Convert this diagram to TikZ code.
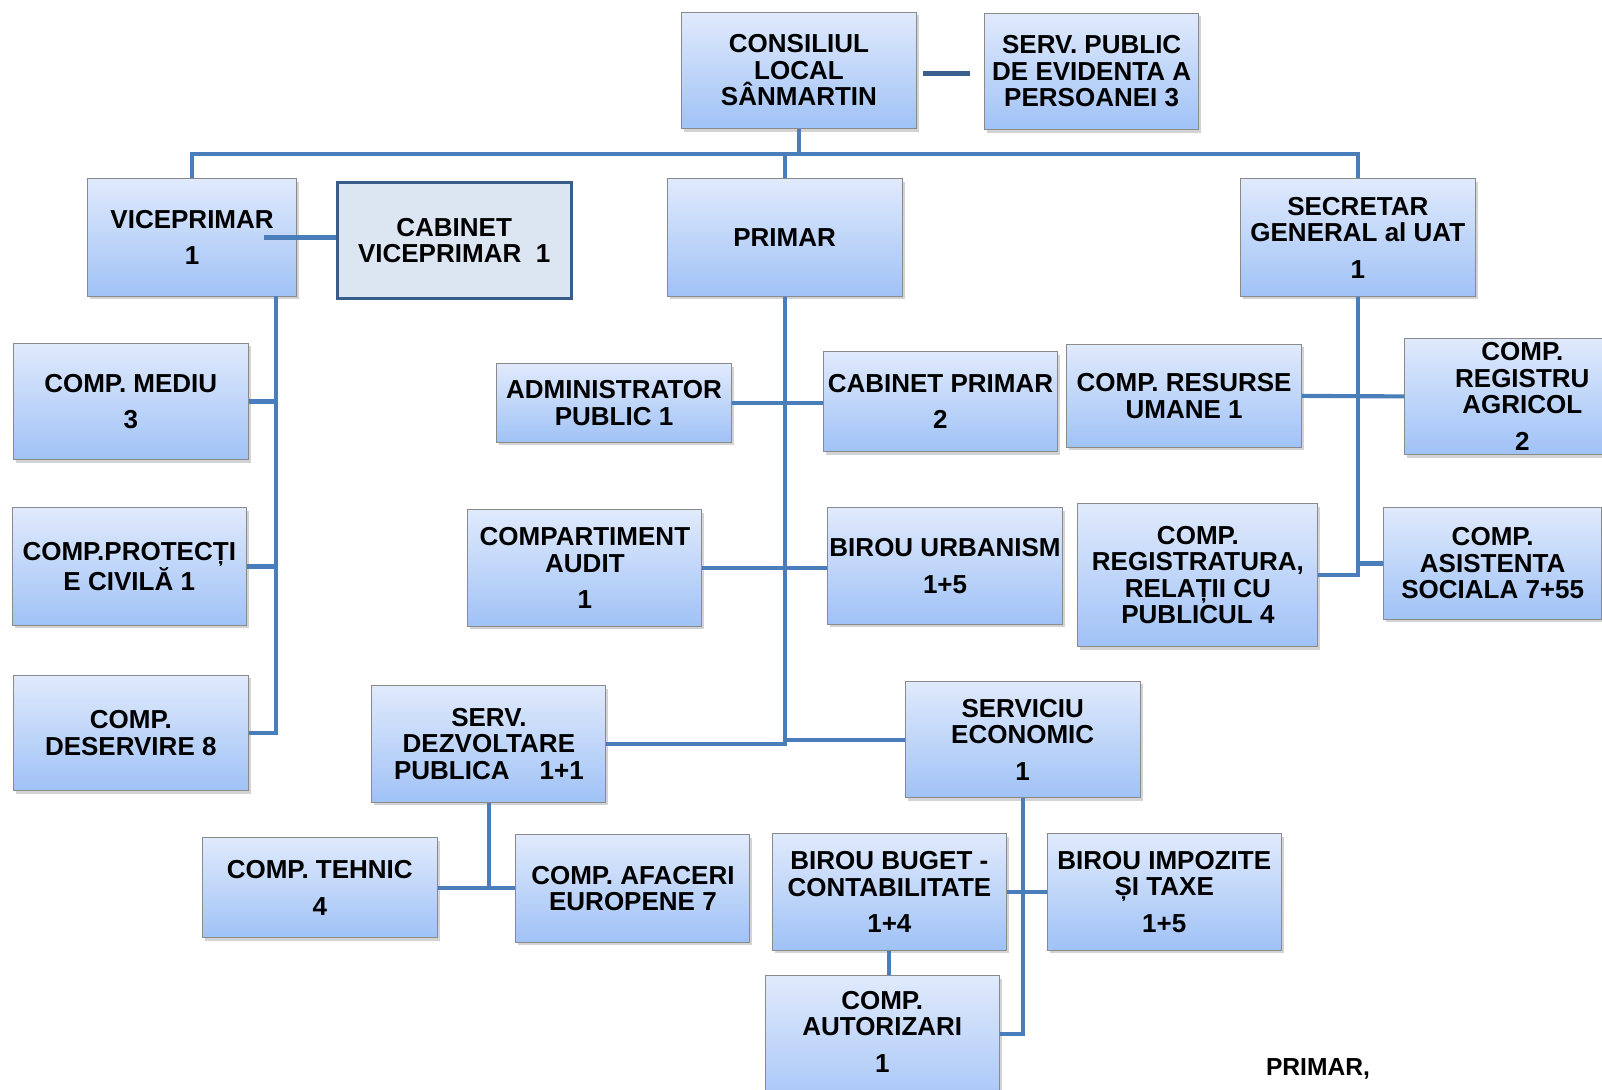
\documentclass[tikz,border=0pt]{standalone}
\usepackage{fontspec}
\setmainfont{Liberation Sans}
\usetikzlibrary{shadows}

\definecolor{boxtop}{RGB}{224,234,252}
\definecolor{boxbottom}{RGB}{160,194,246}
\definecolor{boxline}{RGB}{138,138,138}
\definecolor{linkblue}{RGB}{74,126,187}
\definecolor{linkdark}{RGB}{58,95,142}
\definecolor{cabfill}{RGB}{220,230,242}
\definecolor{cabline}{RGB}{56,93,138}

\begin{document}
\begin{tikzpicture}[x=0.020434cm,y=-0.020434cm]
    % Define styles for the boxes and the links
    \tikzstyle{box} = [rectangle, draw=boxline, line width=0.6pt, top color=boxtop, bottom color=boxbottom,
        drop shadow={shadow xshift=0.05cm, shadow yshift=-0.06cm, opacity=0.35},
        align=center, inner sep=1pt, minimum width=4.7cm, minimum height=2.33cm,
        font=\fontsize{14.8}{15.1}\selectfont\bfseries]
    \tikzstyle{cabbox} = [rectangle, draw=cabline, line width=1.8pt, fill=cabfill,
        align=center, minimum width=4.68cm, minimum height=2.31cm,
        font=\fontsize{14.8}{15.1}\selectfont\bfseries]
    \tikzstyle{link} = [draw=linkblue, line width=2.35pt]

    \useasboundingbox (0,0) rectangle (1568,1066);

    % Draw the top level
    \node[box] (cons) at (782,69) {CONSILIUL\\LOCAL\\SÂNMARTIN};
    \node[box, minimum width=4.27cm] (serv) at (1068.5,70) {SERV. PUBLIC\\DE EVIDENTA A\\PERSOANEI 3};

    % Draw the second level
    \node[box, minimum width=4.17cm, minimum height=2.35cm] (vice) at (188,232.5) {VICEPRIMAR\\[0.2cm]1};
    \node[cabbox] (cabv) at (444.5,235.5) {CABINET\\VICEPRIMAR~~1};
    \node[box, minimum height=2.35cm] (prim) at (768,232.5) {PRIMAR};
    \node[box, minimum height=2.35cm] (secr) at (1329,232.5) {SECRETAR\\GENERAL al UAT\\[0.2cm]1};

    % Draw the boxes under the viceprimar
    \node[box] (mediu) at (128,393) {COMP. MEDIU\\[0.2cm]3};
    \node[box, minimum width=4.68cm, minimum height=2.35cm] (protc) at (126.5,554.5) {COMP.PROTECȚI\\E CIVILĂ 1};
    \node[box, minimum height=2.31cm] (deser) at (128,717.5) {COMP.\\DESERVIRE 8};

    % Draw the boxes under the primar
    \node[box, minimum height=1.57cm] (admin) at (601,394.5) {ADMINISTRATOR\\PUBLIC 1};
    \node[box, minimum width=4.68cm, minimum height=2cm] (cabp) at (920.5,393) {CABINET PRIMAR\\[0.2cm]2};
    \node[box, minimum width=4.68cm] (audit) at (572.5,556) {COMPARTIMENT\\AUDIT\\[0.2cm]1};
    \node[box] (urban) at (925,554) {BIROU URBANISM\\[0.2cm]1+5};
    \node[box, minimum width=4.68cm] (dezv) at (478.5,728) {SERV.\\DEZVOLTARE\\PUBLICA\hspace{0.6cm}1+1};
    \node[box] (econ) at (1001,724) {SERVICIU\\ECONOMIC\\[0.2cm]1};
    \node[box, minimum height=2cm] (tehnic) at (313,869) {COMP. TEHNIC\\[0.2cm]4};
    \node[box, minimum width=4.68cm, minimum height=2.15cm] (afac) at (619.5,869.5) {COMP. AFACERI\\EUROPENE 7};
    \node[box, minimum width=4.68cm] (buget) at (870.5,873) {BIROU BUGET -\\CONTABILITATE\\[0.2cm]1+4};
    \node[box, minimum width=4.68cm] (impoz) at (1139.5,873) {BIROU IMPOZITE\\ȘI TAXE\\[0.2cm]1+5};
    \node[box, minimum width=4.68cm, minimum height=2.86cm] (autor) at (863.5,1025) {COMP.\\AUTORIZARI\\[0.2cm]1\\[0.1cm]~};

    % Draw the boxes under the secretar
    \node[box, minimum height=2.06cm] (resurse) at (1159,387.5) {COMP. RESURSE\\UMANE 1};
    \node[box] (regag) at (1490,388) {COMP.\\REGISTRU\\AGRICOL\\[0.2cm]2};
    \node[box, minimum width=4.8cm, minimum height=2.86cm] (regt) at (1172.5,563) {COMP.\\REGISTRATURA,\\RELAȚII CU\\PUBLICUL 4};
    \node[box, minimum width=4.37cm, minimum height=2.23cm] (asist) at (1461,551.5) {COMP.\\ASISTENTA\\SOCIALA 7+55};

    % Draw the signature
    \node[font=\fontsize{14}{14.3}\selectfont\bfseries] (sign) at (1290,1046) {PRIMAR,};

    % Draw the links of the top level
    \coordinate (bus) at (782,151);
    \coordinate (vline) at (270,290);
    \draw[link, draw=linkdark, line width=2.6pt] ([xshift=0.12cm,yshift=-0.06cm]cons.east) -- ([xshift=-0.29cm,yshift=-0.06cm]cons.east -| serv.west);
    \draw[link] (cons.south) -- (bus);
    \draw[link] (vice.north) |- (bus) -| (secr.north);
    \draw[link] (prim.north) -- (prim.north |- bus);
    \draw[link] ([xshift=-0.65cm]vice.east) -- (vice.east -| cabv.west);

    % Draw the links under the viceprimar
    \draw[link] (vline) |- (deser.east);
    \foreach \n in {mediu,protc} {
        \draw[link] (\n.east) -- (\n.east -| vline);
    }

    % Draw the links under the primar
    \draw[link] (prim.south) |- (dezv.east);
    \draw[link] (econ.west) -- (econ.west -| prim.south);
    \draw[link] (admin.east) -- (admin.east -| cabp.west);
    \draw[link] (audit.east) -- (audit.east -| urban.west);
    \draw[link] (dezv.south) -- (dezv.south |- tehnic.east);
    \draw[link] (tehnic.east) -- (afac.west |- tehnic.east);
    \draw[link] (econ.south) |- ([yshift=0.27cm]autor.east);
    \draw[link] (buget.east) -- (impoz.west);
    \draw[link] (buget.south) -- (buget.south |- autor.north);

    % Draw the links under the secretar
    \draw[link] (secr.south) |- (regt.east);
    \draw[link] (resurse.east) -- (regag.west);
    \draw[link] (asist.west) -- (asist.west -| secr.south);
\end{tikzpicture}
\end{document}
